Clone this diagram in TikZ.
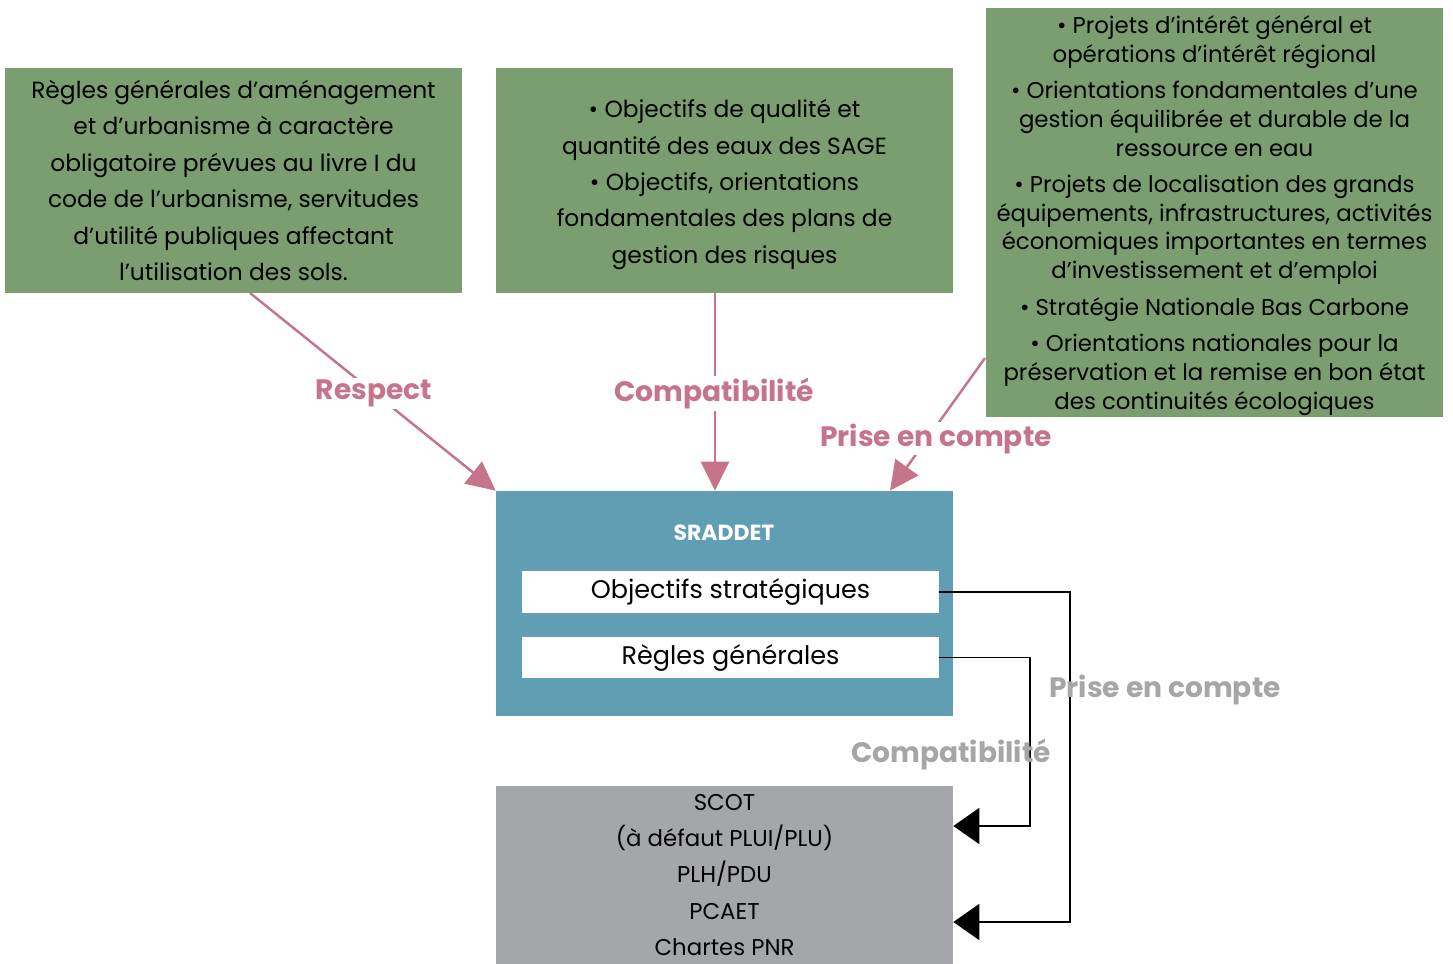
\documentclass[tikz,border=0pt]{standalone}
\usepackage{fontspec}
\setmainfont{Poppins}
\usetikzlibrary{arrows.meta}

\definecolor{boxgreen}{HTML}{7A9E6F}
\definecolor{boxblue}{HTML}{5F9EB3}
\definecolor{boxgrey}{HTML}{A5A6AA}
\definecolor{linkpink}{HTML}{C57489}
\definecolor{labelgrey}{HTML}{A6A6A6}

\tikzset{
  greenbox/.style={fill=boxgreen, align=center, inner sep=0pt, minimum width=9.14cm},
  whitebar/.style={fill=white, inner sep=0pt, minimum width=8.34cm, minimum height=0.83cm, text depth=0.12cm, font=\fontsize{14.5}{16}\selectfont},
  pinkarrow/.style={draw=linkpink, line width=1.4pt, -{Triangle[length=0.58cm,width=0.56cm]}},
  blackarrow/.style={draw=black, line width=1.1pt, -{Triangle[length=0.52cm,width=0.72cm]}},
  pinklabel/.style={text=linkpink, fill=white, inner sep=1pt, font=\fontsize{16}{18}\selectfont\bfseries},
  greylabel/.style={text=labelgrey, inner sep=0pt, font=\fontsize{16}{18}\selectfont\bfseries},
}

\begin{document}
\begin{tikzpicture}
\useasboundingbox (0,0) rectangle (29.06,-19.28);

\node[greenbox, minimum height=4.5cm, font=\fontsize{13.3}{20.7}\selectfont] (regles) at (4.67,-3.61) {R\`egles g\'en\'erales d’am\'enagement\\et d’urbanisme \`a caract\`ere\\obligatoire pr\'evues au livre I du\\code de l’urbanisme, servitudes\\d’utilit\'e publiques affectant\\l’utilisation des sols.};
\node[greenbox, minimum height=4.5cm] (objectifs) at (14.49,-3.61) {};
\node[align=center, inner sep=0pt, font=\fontsize{13.3}{20.7}\selectfont] (objtexte) at ([yshift=-0.08cm]objectifs.center) {\textbullet\ Objectifs de qualit\'e et\\quantit\'e des eaux des SAGE\\\textbullet\ Objectifs, orientations\\fondamentales des plans de\\gestion des risques};
\node[greenbox, minimum height=8.18cm] (projets) at (24.29,-4.25) {};
\node[align=center, inner sep=0pt, font=\fontsize{13}{16.3}\selectfont] (projtexte) at ([yshift=-0.06cm]projets.center) {\textbullet\ Projets d’int\'er\^et g\'en\'eral et\\op\'erations d’int\'er\^et r\'egional\\[4.5pt]
\textbullet\ Orientations fondamentales d’une\\gestion \'equilibr\'ee et durable de la\\ressource en eau\\[4.5pt]
\textbullet\ Projets de localisation des grands\\\'equipements, infrastructures, activit\'es\\\'economiques importantes en termes\\d’investissement et d’emploi\\[4.5pt]
\textbullet\ Strat\'egie Nationale Bas Carbone\\[4.5pt]
\textbullet\ Orientations nationales pour la\\pr\'eservation et la remise en bon \'etat\\des continuit\'es \'ecologiques};

\node[fill=boxblue, minimum width=9.14cm, minimum height=4.5cm] (sraddet) at (14.49,-12.07) {};
\node[text=white, font=\fontsize{12.5}{14}\selectfont\bfseries] (titre) at (14.48,-10.65) {SRADDET};
\node[whitebar] (strat) at (14.61,-11.84) {Objectifs strat\'egiques};
\node[whitebar] (generales) at (14.61,-13.15) {R\`egles g\'en\'erales};

\node[fill=boxgrey, align=center, inner sep=0pt, minimum width=9.14cm, minimum height=3.56cm, font=\fontsize{13}{20.6}\selectfont] (docs) at (14.49,-17.5) {SCOT\\(\`a d\'efaut PLUI/PLU)\\PLH/PDU\\PCAET\\Chartes PNR};

\coordinate (r1) at (5.0,-5.86);
\coordinate (c2) at (14.3,0);
\coordinate (p1) at (19.7,-7.16);
\coordinate (p2) at (17.8,0);
\draw[pinkarrow] (r1) -- (sraddet.north west);
\draw[pinkarrow] (objectifs.south -| c2) -- (sraddet.north -| c2);
\draw[pinkarrow] (p1) -- (sraddet.north -| p2);

\coordinate (e1) at (21.4,-18.44);
\coordinate (e2) at (20.6,-16.52);
\draw[blackarrow] (strat.east) -| (e1) -- (e1 -| docs.east);
\draw[blackarrow] (generales.east) -| (e2) -- (e2 -| docs.east);

\node[pinklabel] (respect) at (7.48,-7.87) {Respect};
\node[pinklabel] (compat) at (14.28,-7.87) {Compatibilit\'e};
\node[pinklabel] (prise) at (18.72,-8.77) {Prise en compte};
\node[greylabel] (prise2) at (23.3,-13.79) {Prise en compte};
\node[greylabel] (compat2) at (19.02,-15.09) {Compatibilit\'e};
\end{tikzpicture}
\end{document}
